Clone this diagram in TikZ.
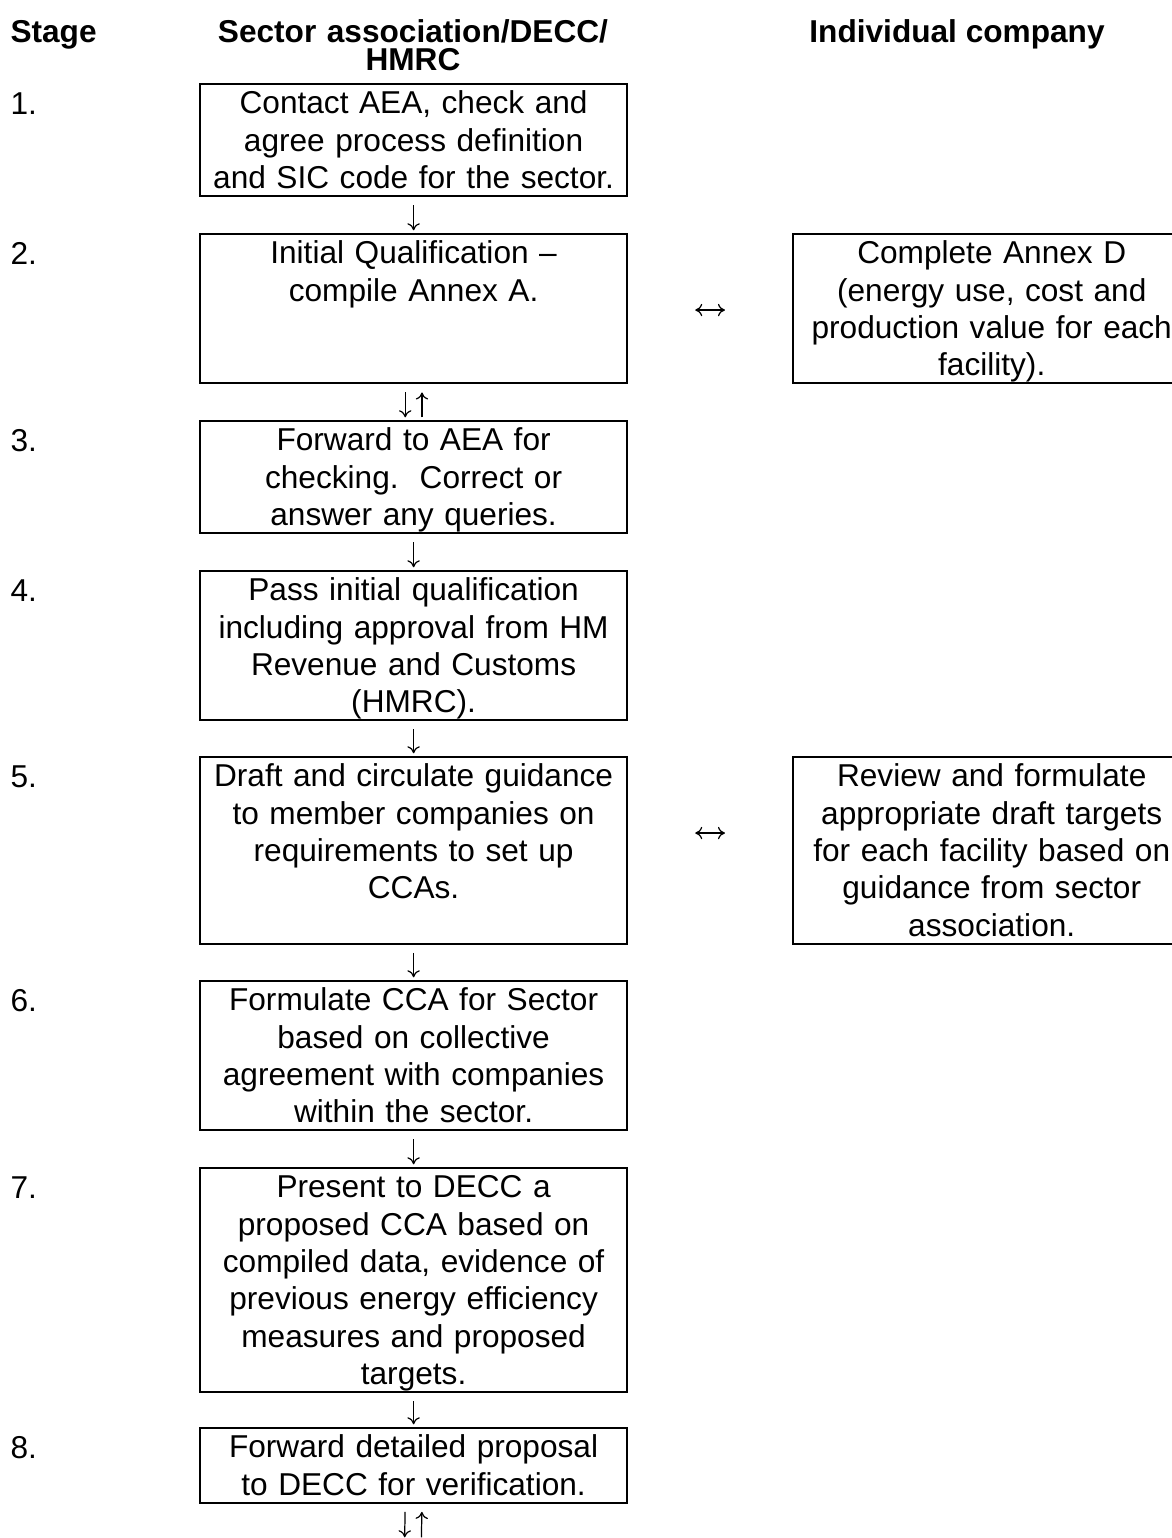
\documentclass[tikz,border=0pt]{standalone}
\usepackage{fontspec}
\setmainfont{Liberation Sans}
\usetikzlibrary{arrows.meta}
\newcommand{\cellstrut}{\rule[-2.8pt]{0pt}{13.8pt}}
\newcommand{\headstrut}{\rule{0pt}{11pt}}
\begin{document}
\begin{tikzpicture}[x=0.37pt, y=-0.37pt, font=\fontsize{11.7pt}{13.8pt}\selectfont,
	stagebox/.style={draw, line width=0.8pt, text width=157pt, inner xsep=0.5pt, inner ysep=0pt, align=center, anchor=north west, execute at begin node=\cellstrut, execute at end node=\cellstrut},
	companybox/.style={stagebox, text width=146pt},
	heading/.style={font=\fontsize{11.7pt}{10.4pt}\selectfont\bfseries, inner sep=0pt, execute at begin node=\headstrut},
	stagenum/.style={anchor=north west, inner sep=0pt, execute at begin node=\cellstrut},
	flow/.style={-{To[length=2.6pt,width=4.6pt]}, line width=0.45pt, shorten <=3pt, shorten >=1pt},
	backflow/.style={flow, shorten <=1pt, shorten >=3pt},
	exchange/.style={{To[length=2.6pt,width=4.6pt]}-{To[length=2.6pt,width=4.6pt]}, line width=0.45pt, shorten <=24.8pt, shorten >=24.8pt}]
	\path[use as bounding box] (0,0) rectangle (1171,1538);
	\node[heading, anchor=north west] (H1) at (10,12) {Stage};
	\node[heading, anchor=north, text width=170pt, align=center] (H2) at (413,12) {Sector association/DECC/\\HMRC};
	\node[heading, anchor=north] (H3) at (957,12) {Individual company};
	\node[stagebox] (B1) at (199,83) {Contact AEA, check and\\agree process definition\\and SIC code for the sector.};
	\node[stagebox] (B2) at (199,233) {Initial Qualification –\\compile Annex A.\\~\\~};
	\node[companybox] (C2) at (792,233) {Complete Annex D\\(energy use, cost and\\production value for each\\facility).};
	\node[stagebox] (B3) at (199,420) {Forward to AEA for\\checking.\ \ Correct or\\answer any queries.};
	\node[stagebox] (B4) at (199,570) {Pass initial qualification\\including approval from HM\\Revenue and Customs\\(HMRC).};
	\node[stagebox] (B5) at (199,756) {Draft and circulate guidance\\to member companies on\\requirements to set up\\CCAs.\\~};
	\node[companybox] (C5) at (792,756) {Review and formulate\\appropriate draft targets\\for each facility based on\\guidance from sector\\association.};
	\node[stagebox] (B6) at (199,980) {Formulate CCA for Sector\\based on collective\\agreement with companies\\within the sector.};
	\node[stagebox] (B7) at (199,1167) {Present to DECC a\\proposed CCA based on\\compiled data, evidence of\\previous energy efficiency\\measures and proposed\\targets.};
	\node[stagebox] (B8) at (199,1427) {Forward detailed proposal\\to DECC for verification.};
	\node[stagenum] (N1) at (10,84) {1.};
	\node[stagenum] (N2) at (10,234) {2.};
	\node[stagenum] (N3) at (10,421) {3.};
	\node[stagenum] (N4) at (10,571) {4.};
	\node[stagenum] (N5) at (10,757) {5.};
	\node[stagenum] (N6) at (10,981) {6.};
	\node[stagenum] (N7) at (10,1168) {7.};
	\node[stagenum] (N8) at (10,1428) {8.};
	\coordinate (E) at (413,1540);
	\draw[flow] (B1) -- (B2);
	\draw[flow] ([xshift=-3.1pt]B2.south) -- ([xshift=-3.1pt]B3.north);
	\draw[backflow] ([xshift=3.1pt]B3.north) -- ([xshift=3.1pt]B2.south);
	\draw[flow] (B3) -- (B4);
	\draw[flow] (B4) -- (B5);
	\draw[flow] (B5) -- (B6);
	\draw[flow] (B6) -- (B7);
	\draw[flow] (B7) -- (B8);
	\draw[flow] ([xshift=-3.1pt]B8.south) -- ([xshift=-3.1pt]E);
	\draw[backflow] ([xshift=3.1pt]E) -- ([xshift=3.1pt]B8.south);
	\draw[exchange] ([yshift=-28.5pt]B2.north east) -- ([yshift=-28.5pt]C2.north west);
	\draw[exchange] ([yshift=-28.5pt]B5.north east) -- ([yshift=-28.5pt]C5.north west);
\end{tikzpicture}
\end{document}
